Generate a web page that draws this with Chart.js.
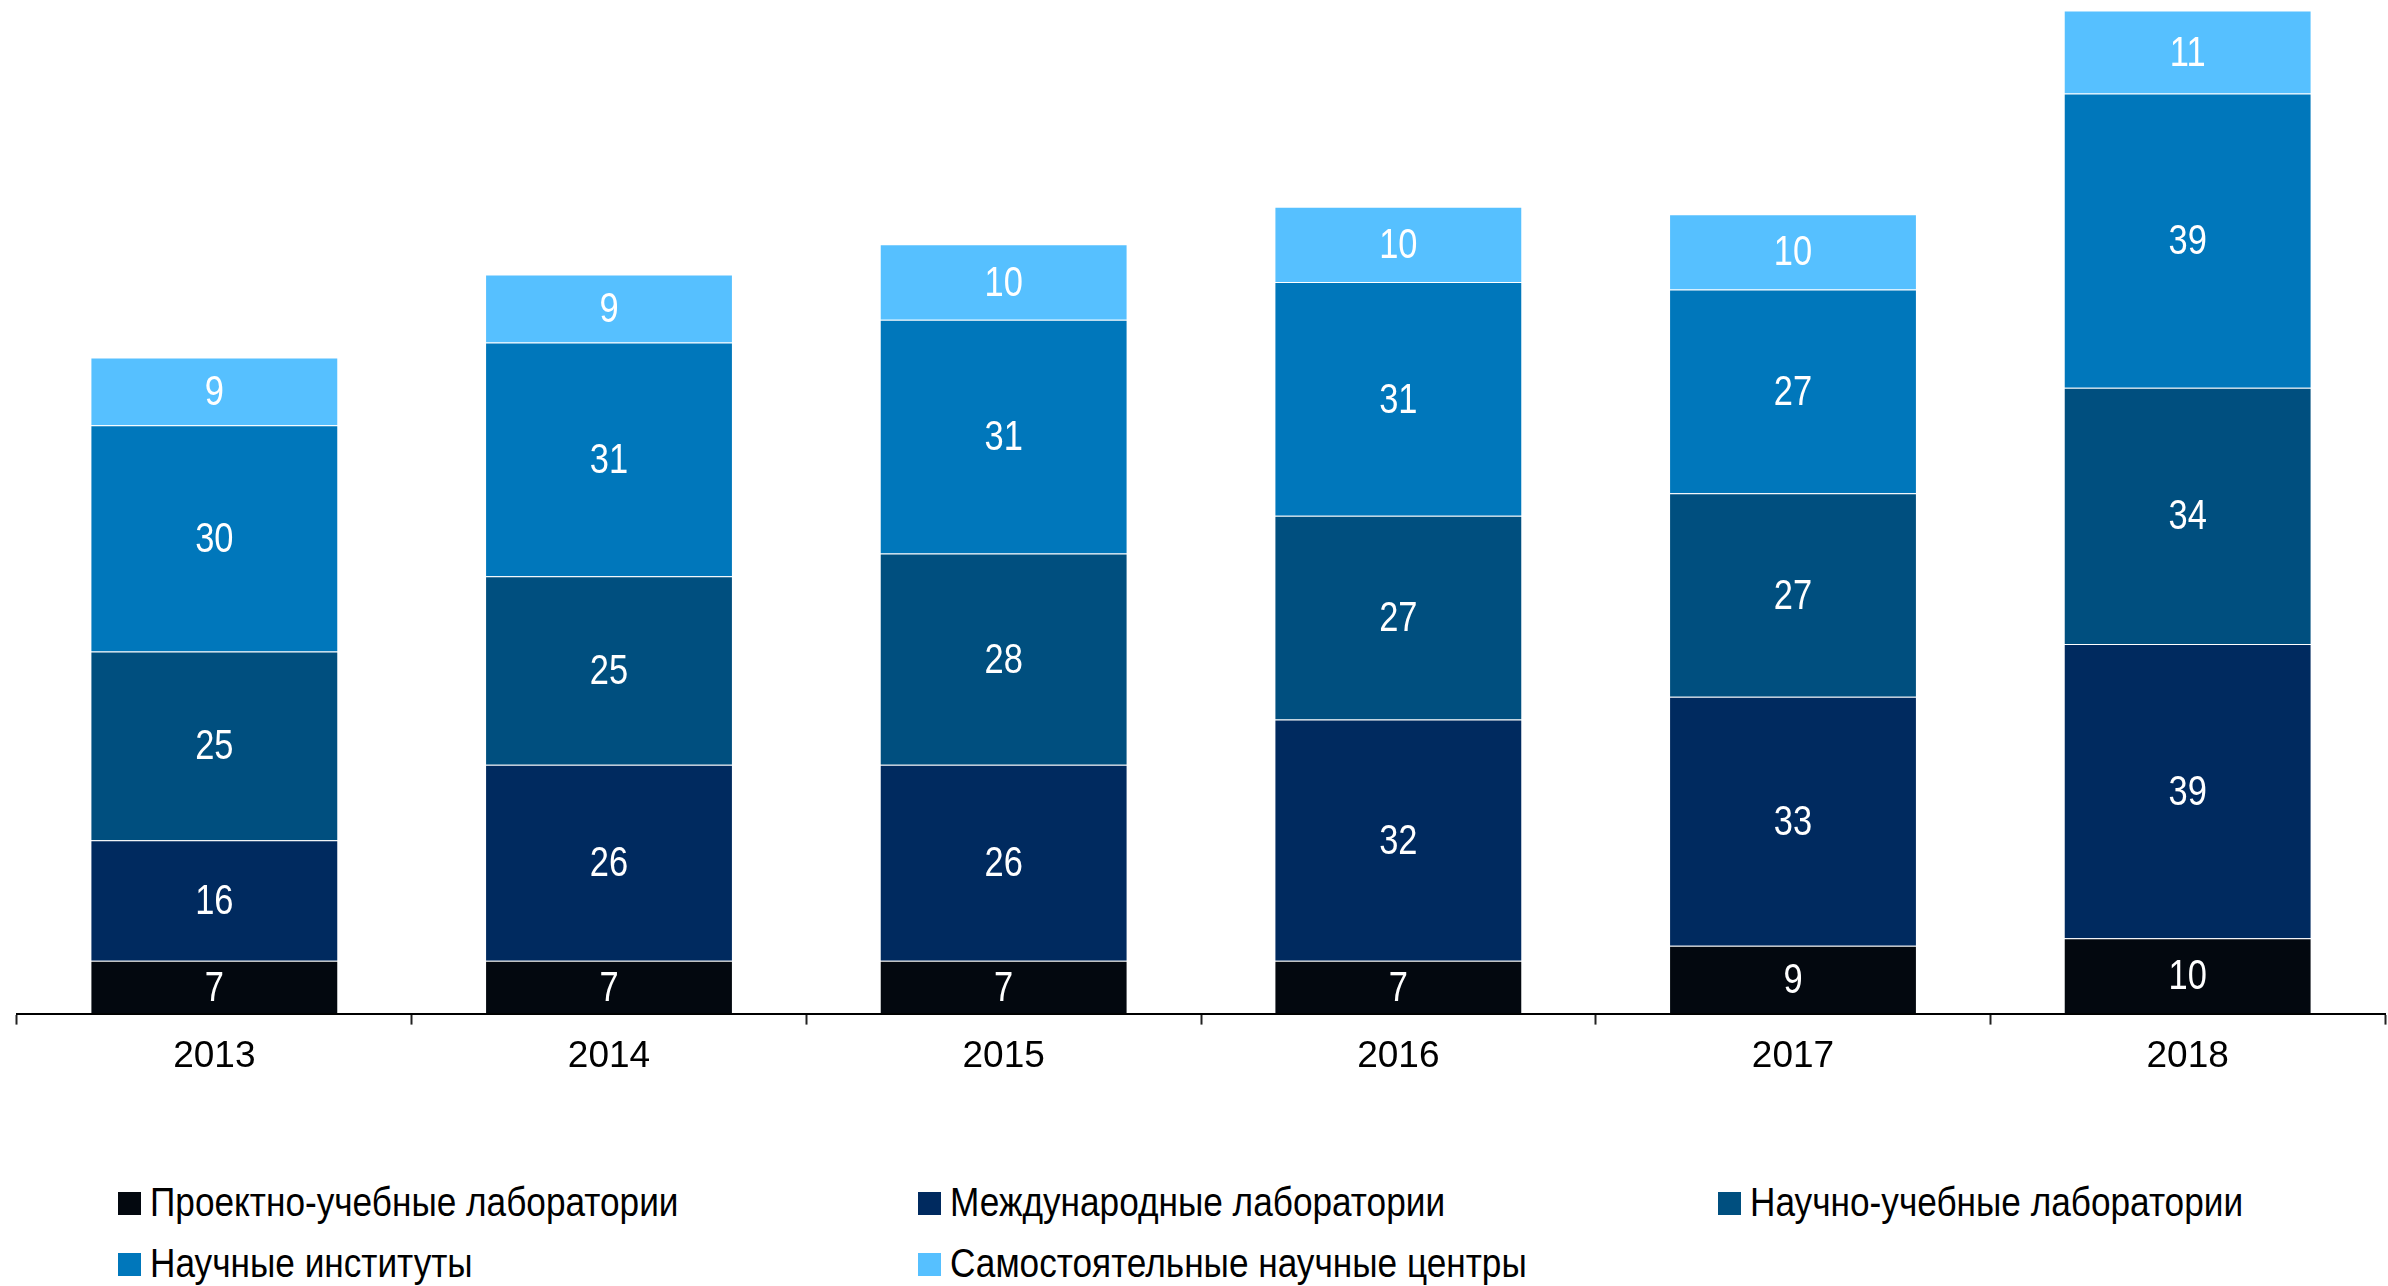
<!DOCTYPE html>
<html>
<head>
<meta charset="utf-8">
<script src="https://cdn.jsdelivr.net/npm/chart.js@4.4.1/dist/chart.umd.min.js"></script>
<style>
    html, body { margin: 0; padding: 0; background: #ffffff; }
    #wrap { position: relative; width: 2388px; height: 1286px; overflow: hidden; }
    #chartBox { position: absolute; left: 0; top: 0; width: 2388px; height: 1089px; }
    .legend { position: absolute; font-family: 'Liberation Sans Narrow', 'Arial Narrow', 'Liberation Sans', Arial, sans-serif; font-size: 40px; color: #000; white-space: nowrap; line-height: 1; }
    .legend .sw { display: inline-block; width: 23px; height: 23px; margin-right: 9px; vertical-align: middle; position: relative; top: -2px; }
    .legend .txt { display: inline-block; transform: scaleX(0.88); transform-origin: left center; }
</style>
</head>
<body>
<div id="wrap">
    <div id="chartBox"><canvas id="labsChart"></canvas></div>
    <div id="legendBox"></div>
</div>
<script>
// Years on the x axis
const years = ['2013', '2014', '2015', '2016', '2017', '2018'];

// Series values, bottom to top
const projectLabs = [7, 7, 7, 7, 9, 10];
const internationalLabs = [16, 26, 26, 32, 33, 39];
const researchLabs = [25, 25, 28, 27, 27, 34];
const institutes = [30, 31, 31, 31, 27, 39];
const centers = [9, 9, 10, 10, 10, 11];

const seriesNames = [
    'Проектно-учебные лаборатории',
    'Международные лаборатории',
    'Научно-учебные лаборатории',
    'Научные институты',
    'Самостоятельные научные центры'
];
const seriesColors = ['#03080f', '#002a5f', '#004f7f', '#0077bb', '#56c0ff'];

const fontFamily = "'Liberation Sans Narrow', 'Arial Narrow', 'Liberation Sans', Arial, sans-serif";

// Value labels in the middle of each segment (squeezed to look like a narrow face)
const segmentLabels = {
    id: 'segmentLabels',
    afterDatasetsDraw(chart) {
        const ctx = chart.ctx;
        chart.data.datasets.forEach((ds, i) => {
            const meta = chart.getDatasetMeta(i);
            meta.data.forEach((bar, j) => {
                const p = bar.getCenterPoint();
                ctx.save();
                ctx.translate(p.x, p.y + 2);
                ctx.scale(0.82, 1);
                ctx.fillStyle = '#ffffff';
                ctx.font = '42px ' + fontFamily;
                ctx.textAlign = 'center';
                ctx.textBaseline = 'middle';
                ctx.fillText(String(ds.data[j]), 0, 0);
                ctx.restore();
            });
        });
    }
};

const allSeries = [projectLabs, internationalLabs, researchLabs, institutes, centers];

const ctx = document.getElementById('labsChart').getContext('2d');
const labsChart = new Chart(ctx, {
    type: 'bar',
    data: {
        labels: years,
        datasets: allSeries.map((values, i) => ({
            label: seriesNames[i],
            data: values,
            backgroundColor: seriesColors[i],
            borderColor: 'rgba(255,255,255,0.15)',
            borderWidth: 1,
            barPercentage: 0.628,
            categoryPercentage: 1.0
        }))
    },
    options: {
        responsive: true,
        maintainAspectRatio: false,
        animation: false,
        layout: {
            padding: { left: 17, right: 3, top: 0, bottom: 0 }
        },
        plugins: {
            legend: { display: false },
            tooltip: { enabled: false }
        },
        scales: {
            x: {
                stacked: true,
                grid: {
                    display: true,
                    offset: true,
                    drawOnChartArea: false,
                    drawTicks: true,
                    tickLength: 11,
                    tickWidth: 2,
                    tickColor: '#222222'
                },
                border: { display: true, color: '#000000', width: 2 },
                ticks: {
                    color: '#000000',
                    padding: 10,
                    font: { family: fontFamily, size: 37 }
                }
            },
            y: {
                stacked: true,
                display: false,
                min: 0,
                max: 134.4
            }
        }
    },
    plugins: [segmentLabels]
});

// Legend laid out in a three-column grid under the chart
const legendSpots = [
    { x: 118, y: 1182 },
    { x: 918, y: 1182 },
    { x: 1718, y: 1182 },
    { x: 118, y: 1243 },
    { x: 918, y: 1243 }
];
const legendBox = document.getElementById('legendBox');
seriesNames.forEach((name, i) => {
    const item = document.createElement('div');
    item.className = 'legend';
    item.style.left = legendSpots[i].x + 'px';
    item.style.top = legendSpots[i].y + 'px';
    item.innerHTML = '<span class="sw" style="background:' + seriesColors[i] + '"></span><span class="txt">' + name + '</span>';
    legendBox.appendChild(item);
});
</script>
</body>
</html>
